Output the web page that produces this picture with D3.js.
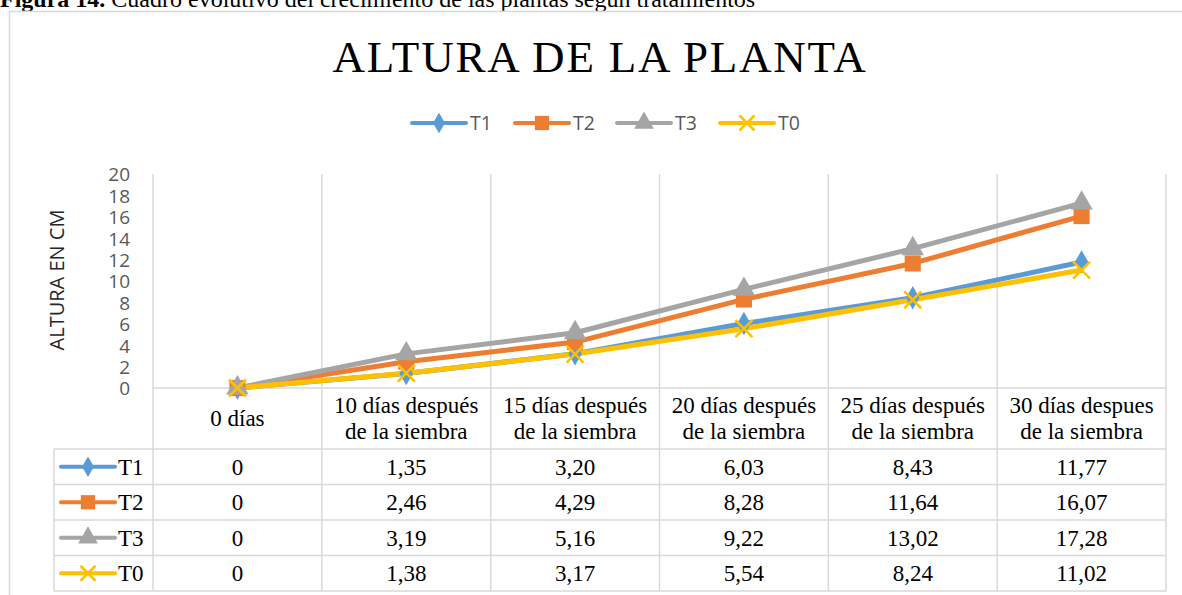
<!DOCTYPE html>
<html>
<head>
<meta charset="utf-8">
<script src="https://cdn.jsdelivr.net/npm/d3@7"></script>
<style>
  body { margin: 0; background: #fff; }
  svg { display: block; }
</style>
</head>
<body>
<svg id="chart" width="1182" height="595"></svg>
<script>
// data
const categories = ["0 días", "10 días después\nde la siembra", "15 días después\nde la siembra",
  "20 días después\nde la siembra", "25 días después\nde la siembra", "30 días despues\nde la siembra"];
const seriesNames = ["T1", "T2", "T3", "T0"];
const t1 = [0, 1.35, 3.20, 6.03, 8.43, 11.77];
const t2 = [0, 2.46, 4.29, 8.28, 11.64, 16.07];
const t3 = [0, 3.19, 5.16, 9.22, 13.02, 17.28];
const t0 = [0, 1.38, 3.17, 5.54, 8.24, 11.02];
const yTicks = [0, 2, 4, 6, 8, 10, 12, 14, 16, 18, 20];

const colors = {T1: "#5B9BD5", T2: "#ED7D31", T3: "#A5A5A5", T0: "#FFC000"};
const markers = {T1: "diamond", T2: "square", T3: "triangle", T0: "x"};
const series = seriesNames.map((n, i) => ({name: n, values: [t1, t2, t3, t0][i]}));

const gridColor = "#D9D9D9";
const sans = "'Open Sans', 'Liberation Sans', sans-serif";
const serif = "'Liberation Serif', 'Times New Roman', serif";
const cellFont = "23px";

const svg = d3.select("#chart");

// caption above the chart frame
svg.append("text")
  .attr("x", 0).attr("y", 7)
  .style("font-family", serif).style("font-size", "24px")
  .call(t => {
    t.append("tspan").style("font-weight", "bold").text("Figura 14.");
    t.append("tspan").text(" Cuadro evolutivo del crecimiento de las plantas según tratamientos");
  });

// chart frame
svg.append("rect")
  .attr("x", 9.5).attr("y", 11.5).attr("width", 1190).attr("height", 600)
  .attr("fill", "none").attr("stroke", gridColor).attr("stroke-width", 1.5);

// title
svg.append("text")
  .attr("x", 600).attr("y", 72)
  .attr("text-anchor", "middle")
  .style("font-family", serif).style("font-size", "45px")
  .style("letter-spacing", "1.8px")
  .attr("fill", "#000")
  .text("ALTURA DE LA PLANTA");

// scales
const plotLeft = 153, plotRight = 1166, plotTop = 174, plotBottom = 388;
const x = d3.scaleBand().domain(categories).range([plotLeft, plotRight]);
const y = d3.scaleLinear().domain([0, 20]).range([plotBottom, plotTop]);

// table geometry
const tableLeft = 54;
const headerBottom = 449;
const rowH = 35.5;
const tableBottom = headerBottom + rowH * seriesNames.length;

// vertical grid lines (extend through table)
const bounds = categories.map(c => x(c)).concat([plotRight]);
svg.append("g").selectAll("line").data(bounds).join("line")
  .attr("x1", d => d).attr("x2", d => d)
  .attr("y1", plotTop).attr("y2", tableBottom)
  .attr("stroke", gridColor).attr("stroke-width", 1.5);

// horizontal table lines
svg.append("line")
  .attr("x1", plotLeft).attr("x2", plotRight)
  .attr("y1", plotBottom).attr("y2", plotBottom)
  .attr("stroke", gridColor).attr("stroke-width", 1.5);
const rowLines = d3.range(seriesNames.length + 1).map(i => headerBottom + i * rowH);
svg.append("g").selectAll("line").data(rowLines).join("line")
  .attr("x1", tableLeft).attr("x2", plotRight)
  .attr("y1", d => d).attr("y2", d => d)
  .attr("stroke", gridColor).attr("stroke-width", 1.5);
svg.append("line")
  .attr("x1", tableLeft).attr("x2", tableLeft)
  .attr("y1", headerBottom).attr("y2", tableBottom)
  .attr("stroke", gridColor).attr("stroke-width", 1.5);

// y axis
const yAxis = d3.axisLeft(y).tickValues(yTicks).tickSize(0).tickPadding(23);
const gy = svg.append("g").attr("transform", `translate(${plotLeft},0)`).call(yAxis);
gy.select(".domain").remove();
gy.selectAll("text")
  .style("font-family", sans).style("font-size", "19px")
  .attr("fill", "#595959").attr("dy", "0.36em");

svg.append("text")
  .attr("transform", `translate(64,280) rotate(-90)`)
  .attr("text-anchor", "middle")
  .style("font-family", sans).style("font-size", "20px")
  .attr("fill", "#262626")
  .text("ALTURA EN CM");

// marker helper
function drawMarker(g, type, color, s) {
  if (type === "x") {
    const h = s / 2;
    g.append("path")
      .attr("d", `M${-h},${-h}L${h},${h}M${-h},${h}L${h},${-h}`)
      .attr("stroke", color).attr("stroke-width", 2.5).attr("fill", "none");
  } else {
    const sym = {diamond: d3.symbolDiamond, square: d3.symbolSquare, triangle: d3.symbolTriangle}[type];
    const area = {diamond: s * s * 0.55, square: s * s * 0.9, triangle: s * s * 0.75}[type];
    g.append("path")
      .attr("d", d3.symbol(sym, area)())
      .attr("fill", color);
  }
}

// lines and markers
const line = d3.line()
  .x((d, i) => x(categories[i]) + x.bandwidth() / 2)
  .y(d => y(d));

series.forEach(s => {
  svg.append("path")
    .datum(s.values)
    .attr("d", line)
    .attr("fill", "none")
    .attr("stroke", colors[s.name])
    .attr("stroke-width", 5)
    .attr("stroke-linejoin", "round");
});
series.forEach(s => {
  s.values.forEach((v, i) => {
    const g = svg.append("g")
      .attr("transform", `translate(${x(categories[i]) + x.bandwidth() / 2},${y(v)})`);
    drawMarker(g, markers[s.name], colors[s.name], 17);
  });
});

// legend
const legendX = [412, 515, 617, 720];
series.forEach((s, i) => {
  const g = svg.append("g").attr("transform", `translate(${legendX[i]},123)`);
  g.append("line").attr("x1", 0).attr("x2", 54)
    .attr("stroke", colors[s.name]).attr("stroke-width", 4).attr("stroke-linecap", "round");
  drawMarker(g.append("g").attr("transform", "translate(27,0)"), markers[s.name], colors[s.name], 15);
  g.append("text").attr("x", 58).attr("dy", "0.36em")
    .style("font-family", sans).style("font-size", "19.5px")
    .attr("fill", "#595959").text(s.name);
});

// table header (category labels)
categories.forEach(c => {
  const lines = c.split("\n");
  const cx = x(c) + x.bandwidth() / 2;
  const t = svg.append("text")
    .attr("text-anchor", "middle")
    .style("font-family", serif).style("font-size", cellFont)
    .attr("fill", "#000");
  const start = lines.length === 1 ? 426 : 413;
  lines.forEach((l, k) => t.append("tspan").attr("x", cx).attr("y", start + k * 25.5).text(l));
});

// table rows
const fmt = v => v === 0 ? "0" : v.toFixed(2).replace(".", ",");
series.forEach((s, r) => {
  const cy = headerBottom + r * rowH + rowH / 2;
  const g = svg.append("g").attr("transform", `translate(61,${cy})`);
  g.append("line").attr("x1", 0).attr("x2", 54)
    .attr("stroke", colors[s.name]).attr("stroke-width", 4).attr("stroke-linecap", "round");
  drawMarker(g.append("g").attr("transform", "translate(27,0)"), markers[s.name], colors[s.name], 15);
  g.append("text").attr("x", 57).attr("y", 8)
    .style("font-family", serif).style("font-size", cellFont)
    .attr("fill", "#000").text(s.name);
  s.values.forEach((v, i) => {
    svg.append("text")
      .attr("x", x(categories[i]) + x.bandwidth() / 2)
      .attr("y", cy + 8)
      .attr("text-anchor", "middle")
      .style("font-family", serif).style("font-size", cellFont)
      .attr("fill", "#000")
      .text(fmt(v));
  });
});
</script>
</body>
</html>
